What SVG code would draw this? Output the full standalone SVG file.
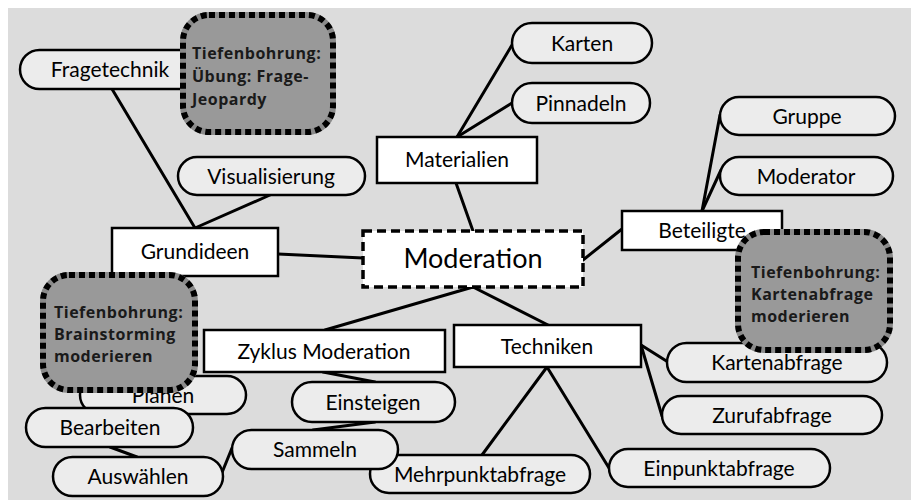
<svg xmlns="http://www.w3.org/2000/svg" width="911" height="500" viewBox="0 0 911 500">
  <style>
    .bg { fill: #dcdcdc; }
    .link { stroke: #000; stroke-width: 3; fill: none; stroke-linecap: round; }
    .pill { fill: #ececec; stroke: #000; stroke-width: 2.5; }
    .box { fill: #fff; stroke: #000; stroke-width: 2.5; }
    .root { fill: #fff; stroke: #000; stroke-width: 3.5; stroke-dasharray: 9 5; }
    .deep { fill: #999; stroke: #8a8a8a; stroke-width: 6; }
    .deep-dots { fill: none; stroke: #000; stroke-width: 6; stroke-dasharray: 6 4; }
    .lbl { font-family: Lato, "Open Sans", "DejaVu Sans", sans-serif; font-size: 21px; fill: #000; text-anchor: middle; }
    .big { font-size: 27px; }
    .deep-lbl { font-family: "Open Sans", "DejaVu Sans", sans-serif; font-size: 16px; font-weight: 700; fill: #1a1a1a; letter-spacing: 0.5px; }
  </style>

  <rect class="bg" x="8" y="8" width="903" height="492"/>

  <!-- connectors -->
  <g id="connectors">
    <line class="link" x1="112" y1="89" x2="195" y2="228"/>
    <line class="link" x1="270" y1="195" x2="195" y2="228"/>
    <line class="link" x1="457" y1="137" x2="512" y2="45"/>
    <line class="link" x1="457" y1="137" x2="512" y2="103"/>
    <line class="link" x1="456" y1="183" x2="473" y2="231"/>
    <line class="link" x1="702" y1="211" x2="720" y2="115"/>
    <line class="link" x1="702" y1="211" x2="721" y2="170"/>
    <line class="link" x1="622" y1="229" x2="583" y2="260"/>
    <line class="link" x1="278" y1="254" x2="363" y2="258"/>
    <line class="link" x1="473" y1="287" x2="325" y2="330"/>
    <line class="link" x1="473" y1="287" x2="548" y2="325"/>
    <line class="link" x1="641" y1="345" x2="668" y2="362"/>
    <line class="link" x1="641" y1="345" x2="662" y2="416"/>
    <line class="link" x1="547" y1="367" x2="482" y2="455"/>
    <line class="link" x1="547" y1="367" x2="609" y2="468"/>
    <line class="link" x1="323" y1="372" x2="375" y2="382"/>
    <line class="link" x1="375" y1="422" x2="313" y2="430"/>
    <line class="link" x1="232" y1="448" x2="219" y2="480"/>
    <line class="link" x1="110" y1="447" x2="137" y2="457"/>
  </g>

  <!-- central node -->
  <g id="moderation">
    <rect class="root" x="363" y="231" width="220" height="56"/>
    <text class="lbl big" x="473" y="268">Moderation</text>
  </g>

  <!-- main branches -->
  <g id="grundideen">
    <rect class="box" x="112" y="228" width="166" height="48"/>
    <text class="lbl" x="195" y="259">Grundideen</text>
  </g>
  <g id="materialien">
    <rect class="box" x="377" y="137" width="160" height="46"/>
    <text class="lbl" x="457" y="167">Materialien</text>
  </g>
  <g id="beteiligte">
    <rect class="box" x="622" y="211" width="160" height="39"/>
    <text class="lbl" x="702" y="238">Beteiligte</text>
  </g>
  <g id="zyklus">
    <rect class="box" x="204" y="330" width="241" height="42"/>
    <text class="lbl" x="324" y="359">Zyklus Moderation</text>
  </g>
  <g id="techniken">
    <rect class="box" x="454" y="325" width="187" height="42"/>
    <text class="lbl" x="547" y="354">Techniken</text>
  </g>

  <!-- leaves -->
  <g id="fragetechnik">
    <rect class="pill" x="20" y="50" width="180" height="39" rx="19.5"/>
    <text class="lbl" x="110" y="77">Fragetechnik</text>
  </g>
  <g id="visualisierung">
    <rect class="pill" x="178" y="157" width="187" height="38" rx="19"/>
    <text class="lbl" x="271" y="184">Visualisierung</text>
  </g>
  <g id="karten">
    <rect class="pill" x="512" y="23" width="140" height="40" rx="20"/>
    <text class="lbl" x="582" y="51">Karten</text>
  </g>
  <g id="pinnadeln">
    <rect class="pill" x="512" y="83" width="138" height="40" rx="20"/>
    <text class="lbl" x="581" y="111">Pinnadeln</text>
  </g>
  <g id="gruppe">
    <rect class="pill" x="720" y="97" width="175" height="38" rx="19"/>
    <text class="lbl" x="807" y="124">Gruppe</text>
  </g>
  <g id="moderator">
    <rect class="pill" x="720" y="157" width="173" height="38" rx="19"/>
    <text class="lbl" x="806" y="184">Moderator</text>
  </g>
  <g id="kartenabfrage">
    <rect class="pill" x="667" y="343" width="220" height="39" rx="19.5"/>
    <text class="lbl" x="777" y="370">Kartenabfrage</text>
  </g>
  <g id="zurufabfrage">
    <rect class="pill" x="662" y="396" width="220" height="38" rx="19"/>
    <text class="lbl" x="772" y="423">Zurufabfrage</text>
  </g>
  <g id="einpunktabfrage">
    <rect class="pill" x="609" y="449" width="221" height="38" rx="19"/>
    <text class="lbl" x="719" y="476">Einpunktabfrage</text>
  </g>
  <g id="mehrpunktabfrage">
    <rect class="pill" x="370" y="455" width="220" height="38" rx="19"/>
    <text class="lbl" x="480" y="482">Mehrpunktabfrage</text>
  </g>
  <g id="einsteigen">
    <rect class="pill" x="292" y="382" width="163" height="40" rx="20"/>
    <text class="lbl" x="373" y="410">Einsteigen</text>
  </g>
  <g id="sammeln">
    <rect class="pill" x="232" y="430" width="166" height="39" rx="19.5"/>
    <text class="lbl" x="315" y="457">Sammeln</text>
  </g>
  <g id="auswaehlen">
    <rect class="pill" x="53" y="457" width="170" height="39" rx="19.5"/>
    <text class="lbl" x="138" y="484">Auswählen</text>
  </g>
  <g id="planen">
    <rect class="pill" x="80" y="376" width="166" height="38" rx="19"/>
    <text class="lbl" x="163" y="403">Planen</text>
  </g>
  <g id="bearbeiten">
    <rect class="pill" x="26" y="408" width="167" height="39" rx="19.5"/>
    <text class="lbl" x="110" y="435">Bearbeiten</text>
  </g>

  <!-- deep-dive notes -->
  <g id="tiefenbohrung-jeopardy">
    <rect class="deep" x="183" y="15" width="150" height="117" rx="26"/>
    <rect class="deep-dots" x="183" y="15" width="150" height="117" rx="26"/>
    <text class="deep-lbl" x="192" y="59">Tiefenbohrung:</text>
    <text class="deep-lbl" x="192" y="82">Übung: Frage-</text>
    <text class="deep-lbl" x="192" y="105">Jeopardy</text>
  </g>
  <g id="tiefenbohrung-brainstorming">
    <rect class="deep" x="43" y="275" width="152" height="115" rx="26"/>
    <rect class="deep-dots" x="43" y="275" width="152" height="115" rx="26"/>
    <text class="deep-lbl" x="54" y="318">Tiefenbohrung:</text>
    <text class="deep-lbl" x="54" y="340">Brainstorming</text>
    <text class="deep-lbl" x="54" y="362">moderieren</text>
  </g>
  <g id="tiefenbohrung-kartenabfrage">
    <rect class="deep" x="738" y="232" width="152" height="118" rx="26"/>
    <rect class="deep-dots" x="738" y="232" width="152" height="118" rx="26"/>
    <text class="deep-lbl" x="751" y="278">Tiefenbohrung:</text>
    <text class="deep-lbl" x="751" y="300">Kartenabfrage</text>
    <text class="deep-lbl" x="751" y="322">moderieren</text>
  </g>
</svg>
